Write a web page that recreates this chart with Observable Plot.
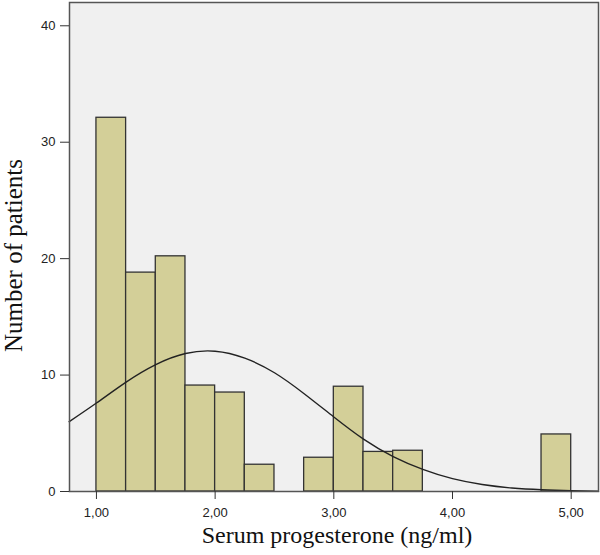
<!DOCTYPE html>
<html><head><meta charset="utf-8">
<script src="https://cdn.jsdelivr.net/npm/d3@7"></script>
<script src="https://cdn.jsdelivr.net/npm/@observablehq/plot@0.6"></script>
<style>body{margin:0;background:#fff}</style>
</head><body><div id="chart"></div>
<script>
const binStarts = [1.00, 1.25, 1.50, 1.75, 2.00, 2.25, 2.75, 3.00, 3.25, 3.50, 4.75];
const binEnds   = [1.25, 1.50, 1.75, 2.00, 2.25, 2.50, 3.00, 3.25, 3.50, 3.75, 5.00];
const counts    = [32.1, 18.8, 20.2, 9.1, 8.5, 2.3, 2.9, 9.0, 3.4, 3.5, 4.9];
const curveX = [0.77, 1.00, 1.25, 1.50, 1.75, 2.00, 2.25, 2.50, 2.75, 3.00, 3.25, 3.50, 3.75, 4.00, 4.25, 4.50, 4.75, 5.00, 5.23];
const curveY = [6.0, 7.6, 9.4, 10.9, 11.85, 12.05, 11.45, 10.2, 8.4, 6.4, 4.5, 3.0, 1.9, 1.1, 0.6, 0.3, 0.15, 0.07, 0.03];
const xTicks = [1, 2, 3, 4, 5];
const yTicks = [0, 10, 20, 30, 40];
const xTitle = "Serum progesterone (ng/ml)";
const yTitle = "Number of patients";

const bars = binStarts.map((s, i) => ({x1: s, x2: binEnds[i], y: counts[i]}));
const curve = curveX.map((x, i) => ({x, y: curveY[i]}));
const fmt = d => d3.format(".2f")(d).replace(".", ",");

const chart = Plot.plot({
  width: 600, height: 555,
  marginLeft: 69, marginRight: 2, marginTop: 2, marginBottom: 64,
  style: {background: "#fff"},
  x: {domain: [0.773, 5.23]},
  y: {domain: [0, 42]},
  marks: [
    Plot.frame({fill: "#f0f0f0", stroke: "none"}),
    Plot.rectY(bars, {x1: "x1", x2: "x2", y: "y", fill: "#d3cf98", stroke: "#333", strokeWidth: 1.3}),
    Plot.line(curve, {x: "x", y: "y", curve: "natural", stroke: "#222", strokeWidth: 1.4}),
    Plot.frame({stroke: "#555", strokeWidth: 1.5}),
    Plot.axisX({ticks: xTicks, tickFormat: fmt, tickSize: 8, label: null, fontSize: 13, fontFamily: "Liberation Sans", tickPadding: 8, stroke: "#333", color: "#222"}),
    Plot.axisY({ticks: yTicks, tickSize: 9, label: null, fontSize: 13, fontFamily: "Liberation Sans", tickPadding: 5, stroke: "#333", color: "#222"}),
    Plot.text([xTitle], {frameAnchor: "bottom", textAnchor: "middle", dy: 51, dx: 3, fontSize: 24, fontFamily: "Liberation Serif", fill: "#111"}),
    Plot.text([yTitle], {frameAnchor: "left", textAnchor: "middle", dx: -56, dy: 8.5, rotate: -90, fontSize: 25, fontFamily: "Liberation Serif", fill: "#111"})
  ]
});
document.getElementById("chart").appendChild(chart);
</script></body></html>
